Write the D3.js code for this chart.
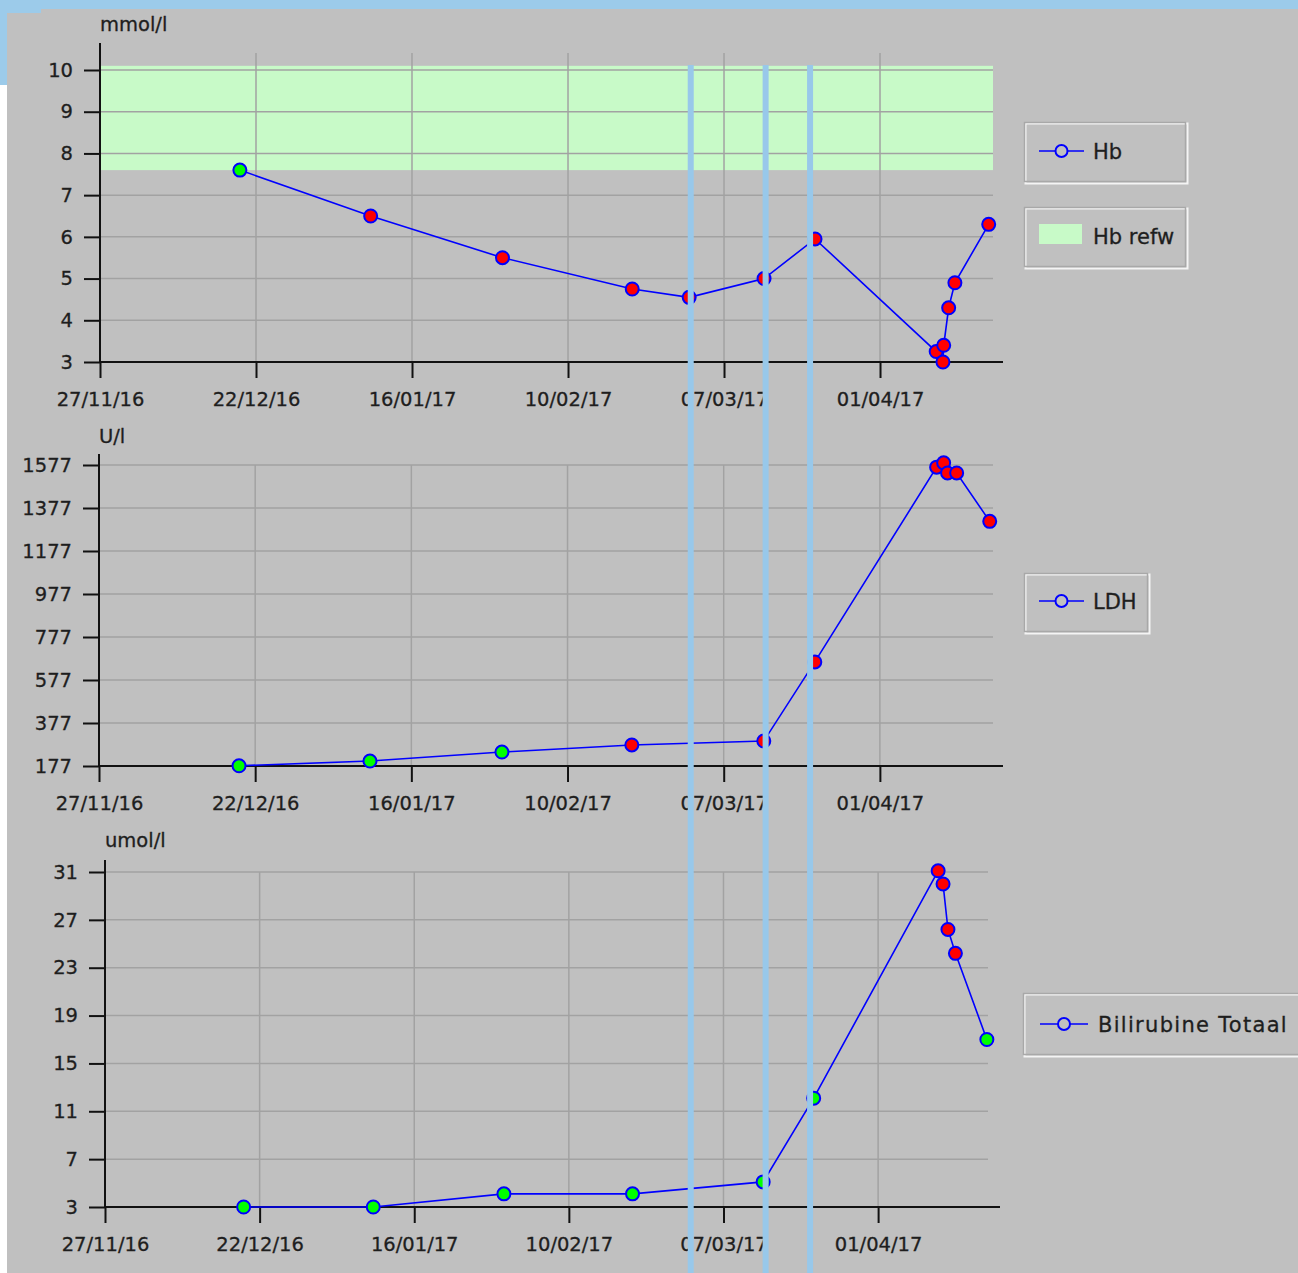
<!DOCTYPE html>
<html>
<head>
<meta charset="utf-8">
<script src="https://cdn.jsdelivr.net/npm/d3@7"></script>
<style>
  body { margin: 0; background: #fff; }
  svg { display: block; }
  text { font-family: "DejaVu Sans", sans-serif; fill: #1e1e1e; }
</style>
</head>
<body>
<div id="chart"></div>
<script>
var width = 1298,
    height = 1273;

// shared time axis
var xDomain = ["2016-11-27T00:00", "2017-04-20T17:00"];
var xTicks = ["2016-11-27", "2016-12-22", "2017-01-16", "2017-02-10", "2017-03-07", "2017-04-01"];
var markerDates = ["2017-03-01T16:00", "2017-03-13T16:00", "2017-03-20T19:00"];

// Hb
var hbDates = ["2016-12-19T10:00", "2017-01-09T09:00", "2017-01-30T12:00", "2017-02-20T07:00",
               "2017-03-01T10:00", "2017-03-13T10:00", "2017-03-21T14:00", "2017-04-10T00:00",
               "2017-04-11T02:00", "2017-04-11T05:00", "2017-04-12T00:00", "2017-04-13T00:00",
               "2017-04-18T10:00"];
var hbValues = [7.6, 6.5, 5.5, 4.75, 4.55, 5.0, 5.95, 3.25, 3.0, 3.4, 4.3, 4.9, 6.3];
var hbTicks = [3, 4, 5, 6, 7, 8, 9, 10];
var hbRef = [7.6, 10.1];

// LDH
var ldhDates = ["2016-12-19T10:00", "2017-01-09T09:00", "2017-01-30T12:00", "2017-02-20T07:00",
                "2017-03-13T10:00", "2017-03-21T14:00", "2017-04-10T02:00", "2017-04-11T05:00",
                "2017-04-11T20:00", "2017-04-13T07:00", "2017-04-18T14:00"];
var ldhValues = [178, 200, 242, 275, 293, 661, 1567, 1587, 1540, 1540, 1315];
var ldhTicks = [177, 377, 577, 777, 977, 1177, 1377, 1577];
var ldhUpper = 250;

// Bilirubine
var biliDates = ["2016-12-19T10:00", "2017-01-09T09:00", "2017-01-30T12:00", "2017-02-20T07:00",
                 "2017-03-13T10:00", "2017-03-21T14:00", "2017-04-10T17:00", "2017-04-11T12:00",
                 "2017-04-12T07:00", "2017-04-13T12:00", "2017-04-18T14:00"];
var biliValues = [3, 3, 4.1, 4.1, 5.1, 12.1, 31.1, 30, 26.2, 24.2, 17];
var biliTicks = [3, 7, 11, 15, 19, 23, 27, 31];
var biliUpper = 17;

var parse = function (s) { return new Date(s); };
var fmt = d3.timeFormat("%d/%m/%y");

var svg = d3.select("#chart").append("svg")
    .attr("width", width)
    .attr("height", height);

// window frame
svg.append("rect").attr("x", 0).attr("y", 0).attr("width", width).attr("height", height).attr("fill", "#fff");
svg.append("rect").attr("x", 0).attr("y", 0).attr("width", width).attr("height", 14).attr("fill", "#9ccbea");
svg.append("rect").attr("x", 0).attr("y", 0).attr("width", 41).attr("height", 85).attr("fill", "#9ccbea");
svg.append("rect").attr("x", 7).attr("y", 13).attr("width", width - 7).attr("height", height - 13).attr("fill", "#c0c0c0");
svg.append("rect").attr("x", 41).attr("y", 9).attr("width", width - 41).attr("height", 10).attr("fill", "#c0c0c0");

var panels = [
    {title: "mmol/l", dates: hbDates, values: hbValues, ticks: hbTicks, yDomain: [3, 10],
     flag: function (v) { return v < hbRef[0] || v > hbRef[1]; }, band: hbRef,
     left: 100, right: 1003, gridRight: 993, top: 70, bottom: 362, axisTop: 43, gridTop: 53, titleY: 31},
    {title: "U/l", dates: ldhDates, values: ldhValues, ticks: ldhTicks, yDomain: [177, 1577],
     flag: function (v) { return v > ldhUpper; },
     left: 99, right: 1003, gridRight: 993, top: 465, bottom: 766, axisTop: 454, gridTop: 465, titleY: 443},
    {title: "umol/l", dates: biliDates, values: biliValues, ticks: biliTicks, yDomain: [3, 31],
     flag: function (v) { return v > biliUpper; },
     left: 105, right: 1000, gridRight: 988, top: 872, bottom: 1207, axisTop: 860, gridTop: 872, titleY: 847}
];

var gridColor = "#a2a2a2";

var drawPanel = function (p) {
    var x = d3.scaleTime().domain(xDomain.map(parse)).range([p.left, p.right]);
    var y = d3.scaleLinear().domain(p.yDomain).range([p.bottom, p.top]);
    var g = svg.append("g");

    if (p.band) {
        g.append("rect")
            .attr("x", p.left)
            .attr("width", p.gridRight - p.left)
            .attr("y", y(p.band[1]))
            .attr("height", y(p.band[0]) - y(p.band[1]))
            .attr("fill", "#c8fac8");
    }

    g.selectAll(".hgrid")
        .data(p.ticks.slice(1))
        .enter()
        .append("line")
        .attr("x1", p.left).attr("x2", p.gridRight)
        .attr("y1", function (d) { return y(d); })
        .attr("y2", function (d) { return y(d); })
        .attr("stroke", gridColor)
        .attr("stroke-width", 1.5);

    g.selectAll(".vgrid")
        .data(xTicks.slice(1))
        .enter()
        .append("line")
        .attr("x1", function (d) { return x(parse(d)); })
        .attr("x2", function (d) { return x(parse(d)); })
        .attr("y1", p.gridTop).attr("y2", p.bottom)
        .attr("stroke", gridColor)
        .attr("stroke-width", 1.5);

    var xAxis = g.append("g")
        .attr("transform", "translate(0," + p.bottom + ")")
        .call(d3.axisBottom(x).tickValues(xTicks.map(parse)).tickFormat(fmt)
            .tickSizeInner(16).tickSizeOuter(0).tickPadding(14));
    var yAxis = g.append("g")
        .attr("transform", "translate(" + p.left + ",0)")
        .call(d3.axisLeft(y).tickValues(p.ticks).tickFormat(d3.format("d"))
            .tickSizeInner(16).tickSizeOuter(0).tickPadding(11));

    [xAxis, yAxis].forEach(function (a) {
        a.attr("font-family", null).attr("font-size", null);
        a.select(".domain").remove();
        a.selectAll("line").attr("stroke", "#111").attr("stroke-width", 2);
        a.selectAll("text").attr("font-size", 19.5).attr("fill", "#1e1e1e")
            .attr("stroke", "#1e1e1e").attr("stroke-width", 0.3);
    });

    g.append("line")
        .attr("x1", p.left).attr("x2", p.right)
        .attr("y1", p.bottom).attr("y2", p.bottom)
        .attr("stroke", "#111").attr("stroke-width", 2);
    g.append("line")
        .attr("x1", p.left).attr("x2", p.left)
        .attr("y1", p.axisTop).attr("y2", p.bottom)
        .attr("stroke", "#111").attr("stroke-width", 2);

    g.append("text")
        .attr("x", p.left)
        .attr("y", p.titleY)
        .attr("font-size", 19.5)
        .attr("stroke", "#1e1e1e").attr("stroke-width", 0.3)
        .text(p.title);

    var pts = p.dates.map(function (d, i) { return {date: parse(d), value: p.values[i]}; });

    g.append("path")
        .datum(pts)
        .attr("d", d3.line()
            .x(function (d) { return x(d.date); })
            .y(function (d) { return y(d.value); }))
        .attr("fill", "none")
        .attr("stroke", "#0000ff")
        .attr("stroke-width", 1.6);

    g.selectAll(".pt")
        .data(pts)
        .enter()
        .append("circle")
        .attr("cx", function (d) { return x(d.date); })
        .attr("cy", function (d) { return y(d.value); })
        .attr("r", 6.5)
        .attr("fill", function (d) { return p.flag(d.value) ? "#ff0000" : "#00ff00"; })
        .attr("stroke", "#0000ff")
        .attr("stroke-width", 2);

    return x;
};

var xTop = null;
panels.forEach(function (p, i) {
    var sx = drawPanel(p);
    if (i === 0) xTop = sx;
});

// legends
var legendBox = function (x0, y0, w, h) {
    svg.append("rect").attr("x", x0 + 1.5).attr("y", y0 + 1.5).attr("width", w - 1).attr("height", h - 1)
        .attr("fill", "none").attr("stroke", "#f4f4f4").attr("stroke-width", 2);
    svg.append("rect").attr("x", x0 + 0.5).attr("y", y0 + 0.5).attr("width", w - 2).attr("height", h - 2)
        .attr("fill", "none").attr("stroke", "#a8a8a8").attr("stroke-width", 1.5);
};
var legendLine = function (x0, x1, cy, label, tx, spacing) {
    svg.append("line").attr("x1", x0).attr("x2", x1).attr("y1", cy).attr("y2", cy)
        .attr("stroke", "#0000ff").attr("stroke-width", 1.6);
    svg.append("circle").attr("cx", (x0 + x1) / 2).attr("cy", cy).attr("r", 6)
        .attr("fill", "#c0c0c0").attr("stroke", "#0000ff").attr("stroke-width", 2);
    svg.append("text").attr("x", tx).attr("y", cy).attr("dy", "0.36em")
        .attr("font-size", 21).attr("letter-spacing", spacing || 0)
        .attr("stroke", "#1e1e1e").attr("stroke-width", 0.3)
        .text(label);
};

legendBox(1024, 122, 163, 61);
legendLine(1039, 1084, 151, "Hb", 1093);

legendBox(1024, 207, 163, 61);
svg.append("rect").attr("x", 1039).attr("y", 224).attr("width", 43).attr("height", 20).attr("fill", "#c8fac8");
svg.append("text").attr("x", 1093).attr("y", 236).attr("dy", "0.36em").attr("font-size", 21)
    .attr("stroke", "#1e1e1e").attr("stroke-width", 0.3).text("Hb refw");

legendBox(1024, 573, 125, 60);
legendLine(1039, 1084, 601, "LDH", 1093);

legendBox(1023, 993, 290, 63);
legendLine(1040, 1088, 1024, "Bilirubine Totaal", 1098, 1.3);

// vertical marker lines across all panels
svg.selectAll(".marker")
    .data(markerDates)
    .enter()
    .append("rect")
    .attr("x", function (d) { return xTop(parse(d)) - 3; })
    .attr("y", 65)
    .attr("width", 6)
    .attr("height", height - 65)
    .attr("fill", "#98c8ea");
</script>
</body>
</html>
